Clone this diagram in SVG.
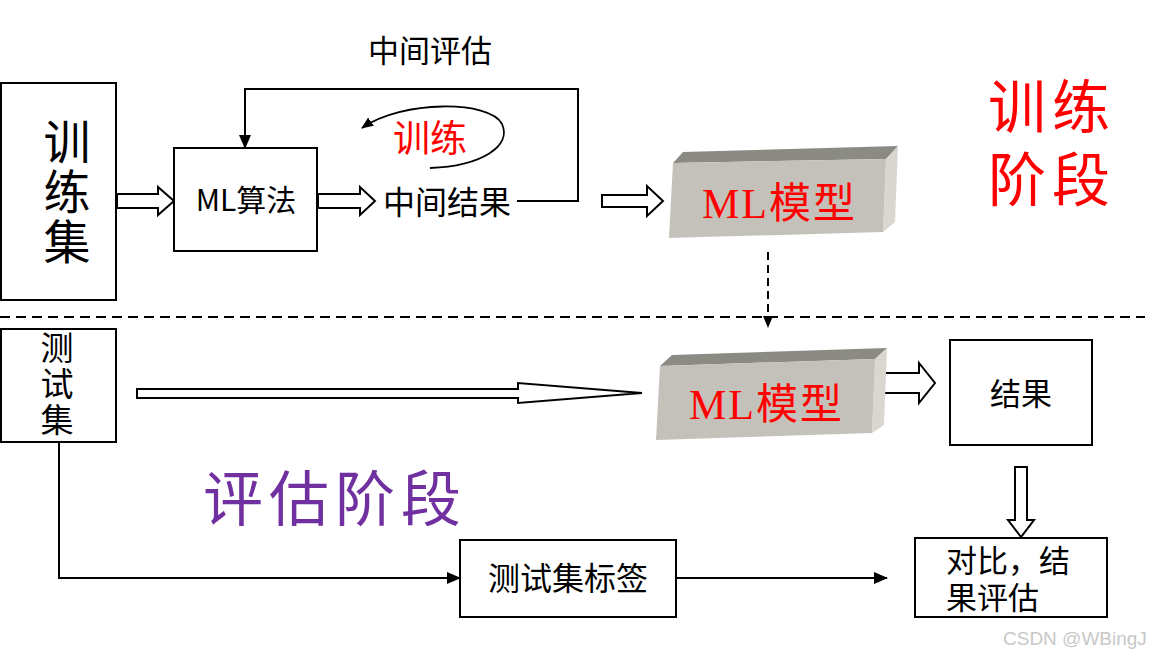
<svg xmlns="http://www.w3.org/2000/svg" width="1158" height="657" viewBox="0 0 1158 657">
<style>
.box{fill:#fff;stroke:#000;stroke-width:2}
.hol{fill:#fff;stroke:#000;stroke-width:2;stroke-linejoin:miter}
.ln{fill:none;stroke:#000;stroke-width:2}
.t{font-family:"Noto Sans CJK SC","Liberation Sans",sans-serif;fill:#000}
.vt{writing-mode:vertical-rl;text-orientation:upright}
.model{font-family:"Liberation Serif","Noto Sans CJK SC",serif;fill:#ff0000;font-weight:normal}
.front{fill:#c3c1b9}
.top{fill:#8b8b84}
.side{fill:#d9d7d0}
</style>
<defs>
<marker id="ah" markerUnits="userSpaceOnUse" markerWidth="14" markerHeight="14" viewBox="0 0 14 14" refX="13" refY="7" orient="auto">
<path d="M0,1 L14,7 L0,13 Z" fill="#000"/>
</marker>
<marker id="ahs" markerUnits="userSpaceOnUse" markerWidth="12" markerHeight="12" viewBox="0 0 12 12" refX="11" refY="6" orient="auto">
<path d="M0,1 L12,6 L0,11 Z" fill="#000"/>
</marker>
</defs>

<g id="connectors">
<polygon class="hol" points="117,194 158,194 158,187 174,201 158,215 158,208 117,208"/>
<polygon class="hol" points="318,194 360,194 360,187 375,201 360,215 360,208 318,208"/>
<polygon class="hol" points="602,195 647,195 647,186 663,201 647,216 647,207 602,207"/>
<path class="ln" d="M517,201 H578 V89 H245 V148" marker-end="url(#ah)"/>
<path fill="none" stroke="#000" stroke-width="1.8" d="M430,168 C482,166 512,146 502,124 C490,100 402,100 362,128" marker-end="url(#ahs)"/>
<path fill="none" stroke="#000" stroke-width="2" stroke-dasharray="8,5" d="M768,252 V327" marker-end="url(#ahs)"/>
<path fill="none" stroke="#000" stroke-width="2" stroke-dasharray="10,6" d="M0,317 H1145"/>
<polygon class="hol" points="137,389 518,389 518,383 642,393 518,403 518,398 137,398"/>
<polygon class="hol" points="884,373 919,373 919,363 935,383 919,403 919,393 884,393"/>
<polygon class="hol" points="1015,467 1027,467 1027,520 1034,520 1021,537 1008,520 1015,520"/>
<path class="ln" d="M59,443 V578 H460" marker-end="url(#ah)"/>
<path class="ln" d="M676,578 H887" marker-end="url(#ah)"/>
</g>

<g id="train-set">
<rect class="box" x="1" y="83" width="115" height="217"/>
<text class="t vt" font-size="47" letter-spacing="3" x="67" y="118">训练集</text>
</g>

<g id="ml-algo">
<rect class="box" x="174" y="148" width="143" height="103"/>
<text class="t" font-size="30" text-anchor="middle" x="246" y="211">ML算法</text>
</g>

<g id="mid-result">
<text class="t" font-size="32" text-anchor="middle" x="447" y="214">中间结果</text>
</g>

<g id="mid-eval">
<text class="t" font-size="31" text-anchor="middle" x="430" y="62">中间评估</text>
</g>

<g id="train-loop">
<text font-family="Noto Sans CJK SC,sans-serif" font-size="37" fill="#ff0000" text-anchor="middle" x="430" y="152">训练</text>
</g>

<g id="model-train">
<polygon class="top" points="673,163 886,159 898,146 683,152"/>
<polygon class="side" points="886,159 898,146 895,222 883,232"/>
<polygon class="front" points="673,163 886,159 883,232 669,238"/>
<text class="model" font-size="42" x="702" y="218" letter-spacing="2">ML模型</text>
</g>

<g id="train-stage">
<text font-family="Noto Sans CJK SC,sans-serif" font-size="58" fill="#ff0000" letter-spacing="6"><tspan x="988" y="128">训练</tspan><tspan x="988" y="201">阶段</tspan></text>
</g>

<g id="test-set">
<rect class="box" x="1" y="329" width="115" height="113"/>
<text class="t vt" font-size="33" letter-spacing="3" x="57" y="331">测试集</text>
</g>

<g id="model-eval">
<polygon class="top" points="660,366 875,359 887,348 672,355"/>
<polygon class="side" points="875,359 887,348 884,425 872,433"/>
<polygon class="front" points="660,366 875,359 872,433 656,440"/>
<text class="model" font-size="42" x="689" y="419" letter-spacing="2">ML模型</text>
</g>

<g id="result">
<rect class="box" x="950" y="340" width="142" height="105"/>
<text class="t" font-size="31" text-anchor="middle" x="1021" y="405">结果</text>
</g>

<g id="eval-stage">
<text font-family="Noto Sans CJK SC,sans-serif" font-size="60" fill="#7030a0" x="203" y="521" letter-spacing="6">评估阶段</text>
</g>

<g id="test-labels">
<rect class="box" x="460" y="540" width="216" height="77"/>
<text class="t" font-size="32" text-anchor="middle" x="568" y="590">测试集标签</text>
</g>

<g id="compare">
<rect class="box" x="915" y="538" width="192" height="79"/>
<text class="t" font-size="31"><tspan x="946" y="572">对比，结</tspan><tspan x="946" y="609">果评估</tspan></text>
</g>

<g id="watermark">
<text font-family="Liberation Sans,sans-serif" font-size="19" fill="#c8c8c8" x="1003" y="645">CSDN @WBingJ</text>
</g>
</svg>
